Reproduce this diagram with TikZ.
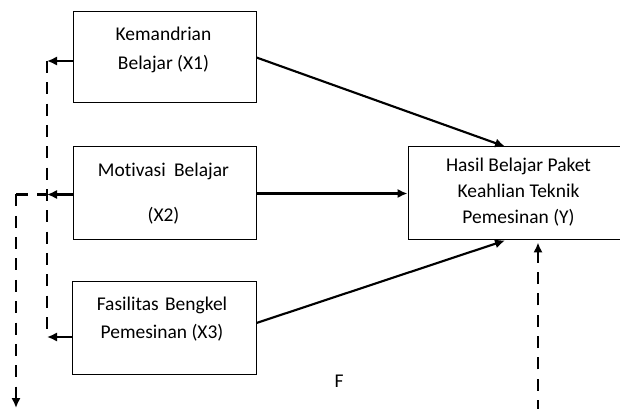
\documentclass[tikz,border=0pt]{standalone}
\usepackage{fontspec}
\setmainfont[Ligatures=NoCommon]{Carlito}
\usetikzlibrary{arrows.meta}
\begin{document}
\begin{tikzpicture}[x=0.75pt,y=-0.75pt,
  box/.style={draw, line width=0.75pt, inner sep=0pt},
  txt/.style={font=\fontsize{14.6}{17}\selectfont, inner sep=0pt, text height=10pt, text depth=3pt, anchor=center},
  solidarrow/.style={line width=1.6pt, -{Latex[length=7.5pt,width=7pt]}},
  dashline/.style={line width=2.1pt, dash pattern=on 9pt off 7pt},
  dasharrow/.style={dashline, -{Latex[length=7.5pt,width=7pt]}}
]
\useasboundingbox (0,0) rectangle (620,409);
\fill[white] (0,0) rectangle (620,409);
\begin{scope}
\clip (0,0) rectangle (620,409);
% boxes
\node[box, minimum width=137.25pt, minimum height=68.25pt] (X1) at (164.5,57.5) {};
\node[box, minimum width=137.25pt, minimum height=69.75pt] (X2) at (164.5,193.5) {};
\node[box, minimum width=138pt, minimum height=69pt] (X3) at (164,328) {};
\node[box, minimum width=165pt, minimum height=69.75pt] (Y) at (518,193.5) {};
% texts
\node[txt] (t1a) at (163.5,36) {Kemandrian};
\node[txt] (t1b) at (163.5,65) {Belajar (X1)};
\node[txt] (t2a) at (163.5,172) {Motivasi \hspace{3pt}Belajar};
\node[txt] (t2b) at (163.5,217) {(X2)};
\node[txt] (t3a) at (162,306) {Fasilitas \hspace{1.5pt}Bengkel};
\node[txt] (t3b) at (162,334) {Pemesinan (X3)};
\node[txt] (ya) at (518.5,167) {Hasil Belajar Paket};
\node[txt] (yb) at (518.5,193) {Keahlian Teknik};
\node[txt] (yc) at (518.5,219) {Pemesinan (Y)};
\node[txt] (F) at (339,383) {F};
% solid arrows
\draw[solidarrow] (X1.east) -- ([xshift=-9.75pt]Y.north);
\draw[solidarrow] (X2.east) -- (Y.west);
\draw[solidarrow] ([yshift=3.75pt]X3.east) -- ([xshift=-9.75pt]Y.south);
% dashed feedback
\coordinate (a1) at (47,61);
\coordinate (a2) at (47,194.5);
\coordinate (a3) at (47,337);
\coordinate (b1) at (16,194.5);
\coordinate (b2) at (16,408);
\coordinate (c1) at (538,412);
\draw[solidarrow] (X1.west |- a1) -- (a1);
\draw[solidarrow] (X2.west |- a2) -- (a2);
\draw[solidarrow] (X3.west |- a3) -- (a3);
\draw[dashline] (a1) -- (a3);
\draw[dasharrow] (b1) -- (b2);
\draw[dashline] (b1) -- (a2);
\draw[dasharrow] (c1) -- ([yshift=-1.5pt]Y.south -| c1);
\end{scope}
\end{tikzpicture}
\end{document}
